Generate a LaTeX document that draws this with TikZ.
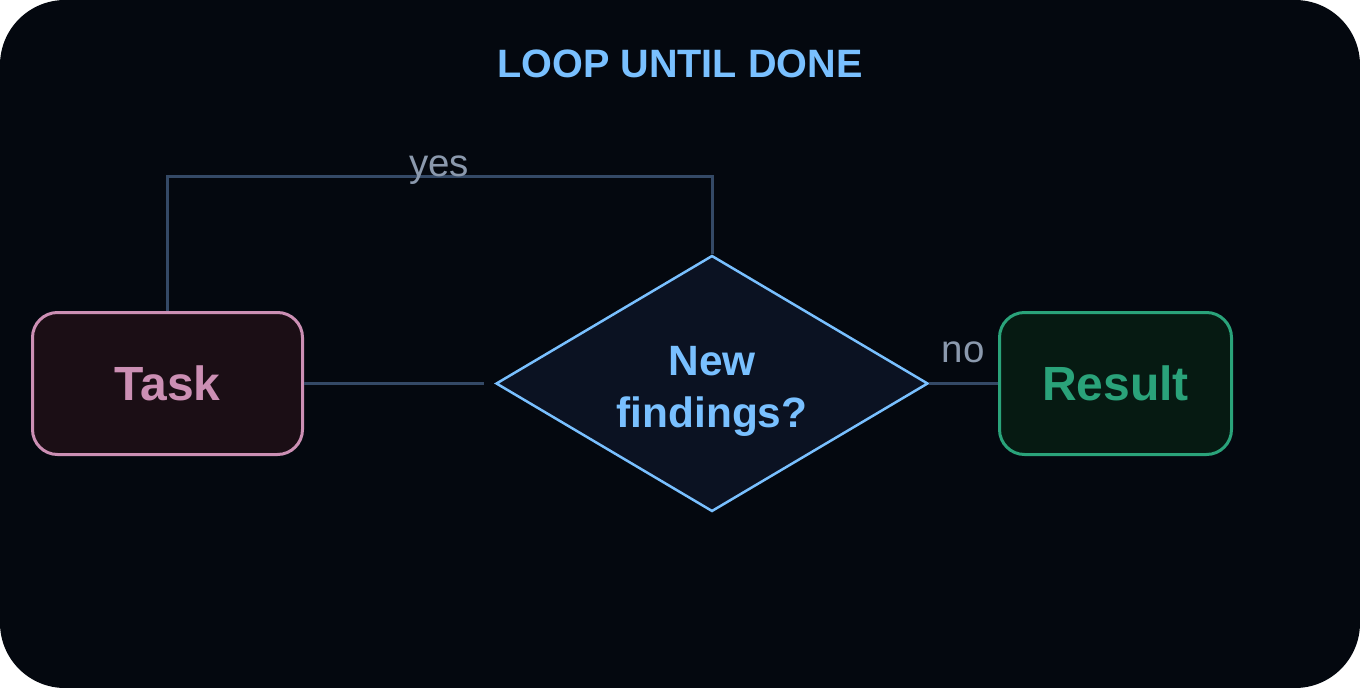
\documentclass[tikz,border=0pt]{standalone}
\usepackage{fontspec}
\setmainfont{Liberation Sans}
\usetikzlibrary{shapes.geometric}
\definecolor{bgc}{HTML}{04080F}
\definecolor{taskfill}{HTML}{1B0E15}
\definecolor{taskline}{HTML}{CC8FB4}
\definecolor{resfill}{HTML}{061A12}
\definecolor{resline}{HTML}{2AA37A}
\definecolor{decfill}{HTML}{0B1222}
\definecolor{decline}{HTML}{79C0FF}
\definecolor{conn}{HTML}{344966}
\definecolor{lbl}{HTML}{8B99AD}
\tikzset{
  boxnode/.style={rectangle, rounded corners=25pt, line width=3pt, inner sep=0pt,
    minimum height=142pt, font=\fontsize{48}{52}\selectfont\bfseries},
  decnode/.style={diamond, aspect=1.6875, minimum width=432pt, minimum height=256pt,
    inner sep=0pt, line width=2.5pt, draw=decline, fill=decfill},
  conline/.style={draw=conn, line width=3pt},
  edgelabel/.style={text=lbl, font=\fontsize{38.5}{44}\selectfont, inner sep=0pt, anchor=base},
}
\begin{document}
\begin{tikzpicture}[x=1pt, y=-1pt]
  \fill[white] (0,0) rectangle (1360,688);
  \fill[bgc, rounded corners=65pt] (0,0) rectangle (1360,688);
  \useasboundingbox (0,0) rectangle (1360,688);

  \node[anchor=base, text=decline, font=\fontsize{39.6}{44}\selectfont\bfseries, inner sep=0pt]
    (title) at (680,77) {LOOP UNTIL DONE};

  \node[boxnode, draw=taskline, fill=taskfill, text=taskline, minimum width=270pt]
    (task) at (167.5,383.5) {Task};
  \node[boxnode, draw=resline, fill=resfill, text=resline, minimum width=232pt]
    (res) at (1115.5,383.5) {Result};
  \node[decnode] (dec) at (712,383.5) {};
  \node[text=decline, font=\fontsize{42.4}{52}\selectfont\bfseries, align=center, inner sep=0pt]
    (dectext) at (712,391) {New\\findings?};

  \coordinate (ytop) at (439,176);
  \coordinate (decin) at (484,383.5);

  \draw[conline] (task.east) -- (decin);
  \draw[conline] (task.north) |- (ytop) -| (dec.north);
  \draw[conline] (dec.east) -- (res.west);

  \node[edgelabel] (yeslbl) at (ytop) {yes};
  \node[edgelabel] (nolbl) at (963,362) {no};
\end{tikzpicture}
\end{document}
